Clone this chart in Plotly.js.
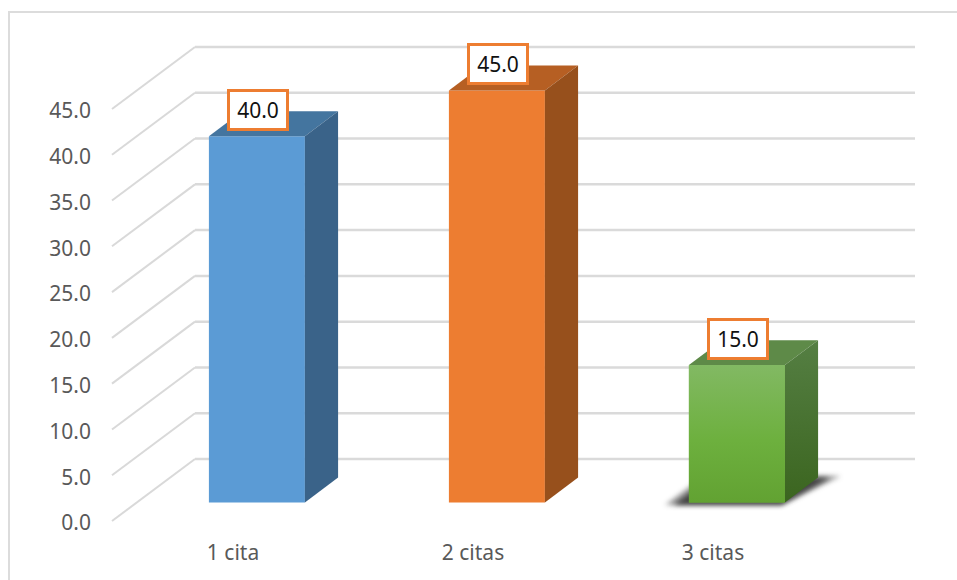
<!DOCTYPE html>
<html>
<head>
<meta charset="utf-8">
<script src="https://cdn.plot.ly/plotly-3.0.1.min.js"></script>
<style>
  html, body { margin: 0; padding: 0; width: 957px; height: 580px; overflow: hidden; background: #fff; }
  #frame { position: absolute; left: 8px; top: 11px; width: 980px; height: 600px; border: 2px solid #dcdcdc; box-sizing: border-box; }
  #chart { position: absolute; left: 0; top: 0; width: 957px; height: 580px; }
</style>
</head>
<body>
<div id="frame"></div>
<div id="chart"></div>
<script>
// Share of appointments attended, drawn as oblique 3D columns.
const categories = ['1 cita', '2 citas', '3 citas'];
const values = [40, 45, 15];
const valueTicks = [0, 5, 10, 15, 20, 25, 30, 35, 40, 45];
const frontColors = ['#5B9BD5', '#ED7D31', '#6CAE3E'];
const topColors = ['#44759F', '#B65F23', '#5E8A48'];
const sideColors = ['#3A6389', '#97501C', '#47702F'];

// Oblique projection: a step into the chart moves right and up on the axes.
const depthX = 0.3458;
const depthY = 6.77;
const project = (x, depth, v) => [x + depth * depthX, v + depth * depthY];

const barHalf = 0.2;
const barNear = 0.30;
const barFar = 0.70;
const wallLeft = -0.5;
const wallRight = 2.5;

function polygon(points, color, extra) {
  return Object.assign({
    type: 'scatter', mode: 'lines', fill: 'toself', fillcolor: color,
    x: points.map(p => p[0]).concat(points[0][0]),
    y: points.map(p => p[1]).concat(points[0][1]),
    line: { width: 0, color: color }, hoverinfo: 'skip', showlegend: false
  }, extra || {});
}

const shapes = [];
// Floor and back-wall gridlines, one per value tick.
valueTicks.forEach(v => {
  const a = project(wallLeft, 0, v), b = project(wallLeft, 1, v), c = project(wallRight, 1, v);
  shapes.push({ type: 'line', layer: 'below', xref: 'x', yref: 'y', x0: a[0], y0: a[1], x1: b[0], y1: b[1], line: { color: '#d9d9d9', width: 2 } });
  shapes.push({ type: 'line', layer: 'below', xref: 'x', yref: 'y', x0: b[0], y0: b[1], x1: c[0], y1: c[1], line: { color: '#dadada', width: 2.5 } });
});

// Cast shadow below the third column; its edges are softened once the plot is drawn.
const shadowStart = shapes.length;
const shadowSteps = [[0.085, 0.05, 0.45], [0.05, 0.0, 0.7]];
shadowSteps.forEach(s => {
  const i = 2;
  const p = [
    project(i - barHalf - s[0], barNear - 0.04, 0),
    project(i + barHalf, barNear - 0.04, 0),
    project(i + barHalf + s[0], barFar + s[1] * 0.5, 0),
    project(i - barHalf - s[0], barFar + s[1] * 0.5, 0)
  ];
  shapes.push({
    type: 'path', layer: 'below', xref: 'x', yref: 'y',
    path: 'M' + p.map(q => q[0] + ',' + q[1]).join('L') + 'Z',
    fillcolor: 'rgba(30,30,30,' + s[2] + ')', line: { width: 0 }
  });
});

const traces = [];
// Front faces of the columns.
traces.push({
  type: 'bar',
  x: categories.map((c, i) => project(i, barNear, 0)[0]),
  y: values,
  base: categories.map(() => project(0, barNear, 0)[1]),
  width: barHalf * 2,
  marker: { color: frontColors, line: { width: 0 } },
  hoverinfo: 'skip', showlegend: false
});

values.forEach((v, i) => {
  const l = i - barHalf, r = i + barHalf;
  const shaded = i === 2;
  traces.push(polygon(
    [project(l, barNear, v), project(r, barNear, v), project(r, barFar, v), project(l, barFar, v)],
    topColors[i]));
  traces.push(polygon(
    [project(r, barNear, 0), project(r, barFar, 0), project(r, barFar, v), project(r, barNear, v)],
    sideColors[i],
    shaded ? { fillgradient: { type: 'vertical', colorscale: [[0, '#3B651F'], [1, '#557F43']] } } : {}));
  if (shaded) {
    // The green column's front face is lit from above.
    traces.push(polygon(
      [project(l, barNear, 0), project(r, barNear, 0), project(r, barNear, v), project(l, barNear, v)],
      frontColors[i],
      { fillgradient: { type: 'vertical', colorscale: [[0, '#62A232'], [0.45, '#6DB03E'], [1, '#82B963']] } }));
  }
});

const annotations = values.map((v, i) => {
  const p = project(i, barNear, v);
  return {
    x: p[0], y: p[1], xref: 'x', yref: 'y', yshift: 26.5, xshift: 1,
    text: v.toFixed(1), showarrow: false,
    font: { family: 'Noto Sans', size: 21, color: '#111111' },
    bgcolor: '#ffffff', bordercolor: '#ED7D31', borderwidth: 3,
    width: 54, height: 34, align: 'center', valign: 'middle'
  };
});

const layout = {
  width: 957, height: 580,
  margin: { l: 100, r: 27, t: 20, b: 45 },
  paper_bgcolor: 'rgba(0,0,0,0)', plot_bgcolor: 'rgba(0,0,0,0)',
  font: { family: 'Noto Sans', size: 21, color: '#595959' },
  showlegend: false,
  xaxis: {
    range: [(100 - 232) / 240, (930 - 232) / 240],
    tickmode: 'array', tickvals: categories.map((c, i) => i), ticktext: categories,
    showgrid: false, zeroline: false, showline: false, ticks: '',
    tickfont: { size: 21, color: '#595959' }, ticklabelstandoff: 3, ticklabelshift: 1, fixedrange: true
  },
  yaxis: {
    range: [-14 / 9.156, 501 / 9.156],
    tickmode: 'array', tickvals: valueTicks, ticktext: valueTicks.map(v => v.toFixed(1)),
    showgrid: false, zeroline: false, showline: false, ticks: '',
    tickfont: { size: 21, color: '#595959' }, ticklabelstandoff: 8, ticklabelshift: 2, fixedrange: true
  },
  shapes: shapes,
  annotations: annotations
};

Plotly.newPlot('chart', traces, layout, { displayModeBar: false, staticPlot: true }).then(gd => {
  gd.querySelectorAll('.shapelayer path[data-index]').forEach(el => {
    if (+el.getAttribute('data-index') >= shadowStart) el.style.filter = 'blur(2.5px)';
  });
});
</script>
</body>
</html>
